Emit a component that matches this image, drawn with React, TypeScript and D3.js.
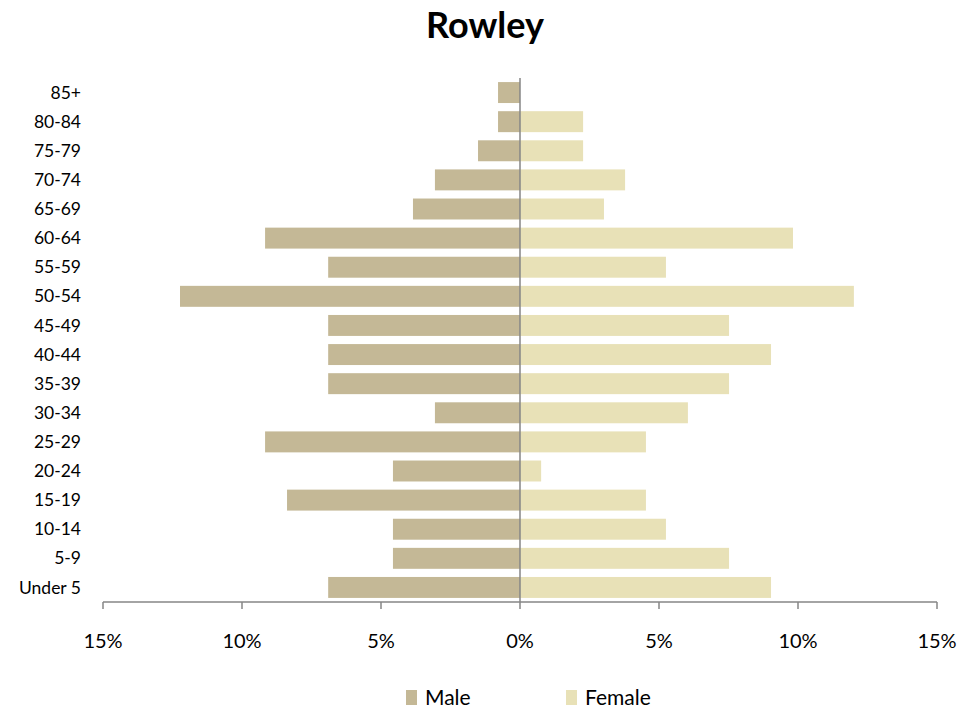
import React from "react";
import * as d3 from "d3";

const ageGroups = ["85+", "80-84", "75-79", "70-74", "65-69", "60-64", "55-59", "50-54", "45-49", "40-44", "35-39", "30-34", "25-29", "20-24", "15-19", "10-14", "5-9", "Under 5"];
const maleValues = [0.79, 0.79, 1.51, 3.06, 3.85, 9.17, 6.9, 12.23, 6.9, 6.9, 6.9, 3.06, 9.17, 4.57, 8.38, 4.57, 4.57, 6.9];
const femaleValues = [0, 2.27, 2.27, 3.78, 3.02, 9.82, 5.25, 12.01, 7.52, 9.03, 7.52, 6.04, 4.53, 0.76, 4.53, 5.25, 7.52, 9.03];
const tickValues = [-15, -10, -5, 0, 5, 10, 15];
const seriesNames = ["Male", "Female"];

const W = 979, H = 713;
const left = 103, right = 937, top = 78, bottom = 602;
const font = "Lato, 'Open Sans', sans-serif";
const maleColor = "#C4B896";
const femaleColor = "#E8E1B7";

export default function App() {
  const x = d3.scaleLinear().domain([-15, 15]).range([left, right]);
  const y = d3.scaleBand().domain(ageGroups).range([top, bottom]).paddingInner(0.28).paddingOuter(0.14);
  const bw = y.bandwidth();
  return (
    <svg width={W} height={H} style={{ position: "absolute", left: 0, top: 0, background: "#fff" }}>
      <text x={485} y={38} textAnchor="middle" fontFamily={font} fontWeight="bold" fontSize={36} fill="#000">Rowley</text>
      {ageGroups.map((g, i) => (
        <g key={g}>
          <rect x={x(-maleValues[i])} y={y(g)!} width={x(0) - x(-maleValues[i])} height={bw} fill={maleColor} />
          <rect x={x(0)} y={y(g)!} width={x(femaleValues[i]) - x(0)} height={bw} fill={femaleColor} />
          <text x={81} y={y(g)! + bw / 2} dy="0.35em" textAnchor="end" fontFamily={font} fontSize={17.5} fill="#000">{g}</text>
        </g>
      ))}
      <line x1={x(0)} x2={x(0)} y1={top} y2={bottom} stroke="#868686" strokeWidth={1.5} />
      <line x1={left} x2={right} y1={bottom} y2={bottom} stroke="#868686" strokeWidth={1.5} />
      {tickValues.map((t) => (
        <g key={t}>
          <line x1={x(t)} x2={x(t)} y1={bottom} y2={bottom + 7} stroke="#868686" strokeWidth={1.5} />
          <text x={x(t)} y={641} dy="0.35em" textAnchor="middle" fontFamily={font} fontSize={20} fill="#000">{Math.abs(t)}%</text>
        </g>
      ))}
      {seriesNames.map((s, i) => (
        <g key={s} transform={`translate(${406 + i * 160},690)`}>
          <rect x={0} y={0} width={11} height={15} fill={i === 0 ? maleColor : femaleColor} />
          <text x={19} y={8} dy="0.35em" fontFamily={font} fontSize={21} fill="#000">{s}</text>
        </g>
      ))}
    </svg>
  );
}
